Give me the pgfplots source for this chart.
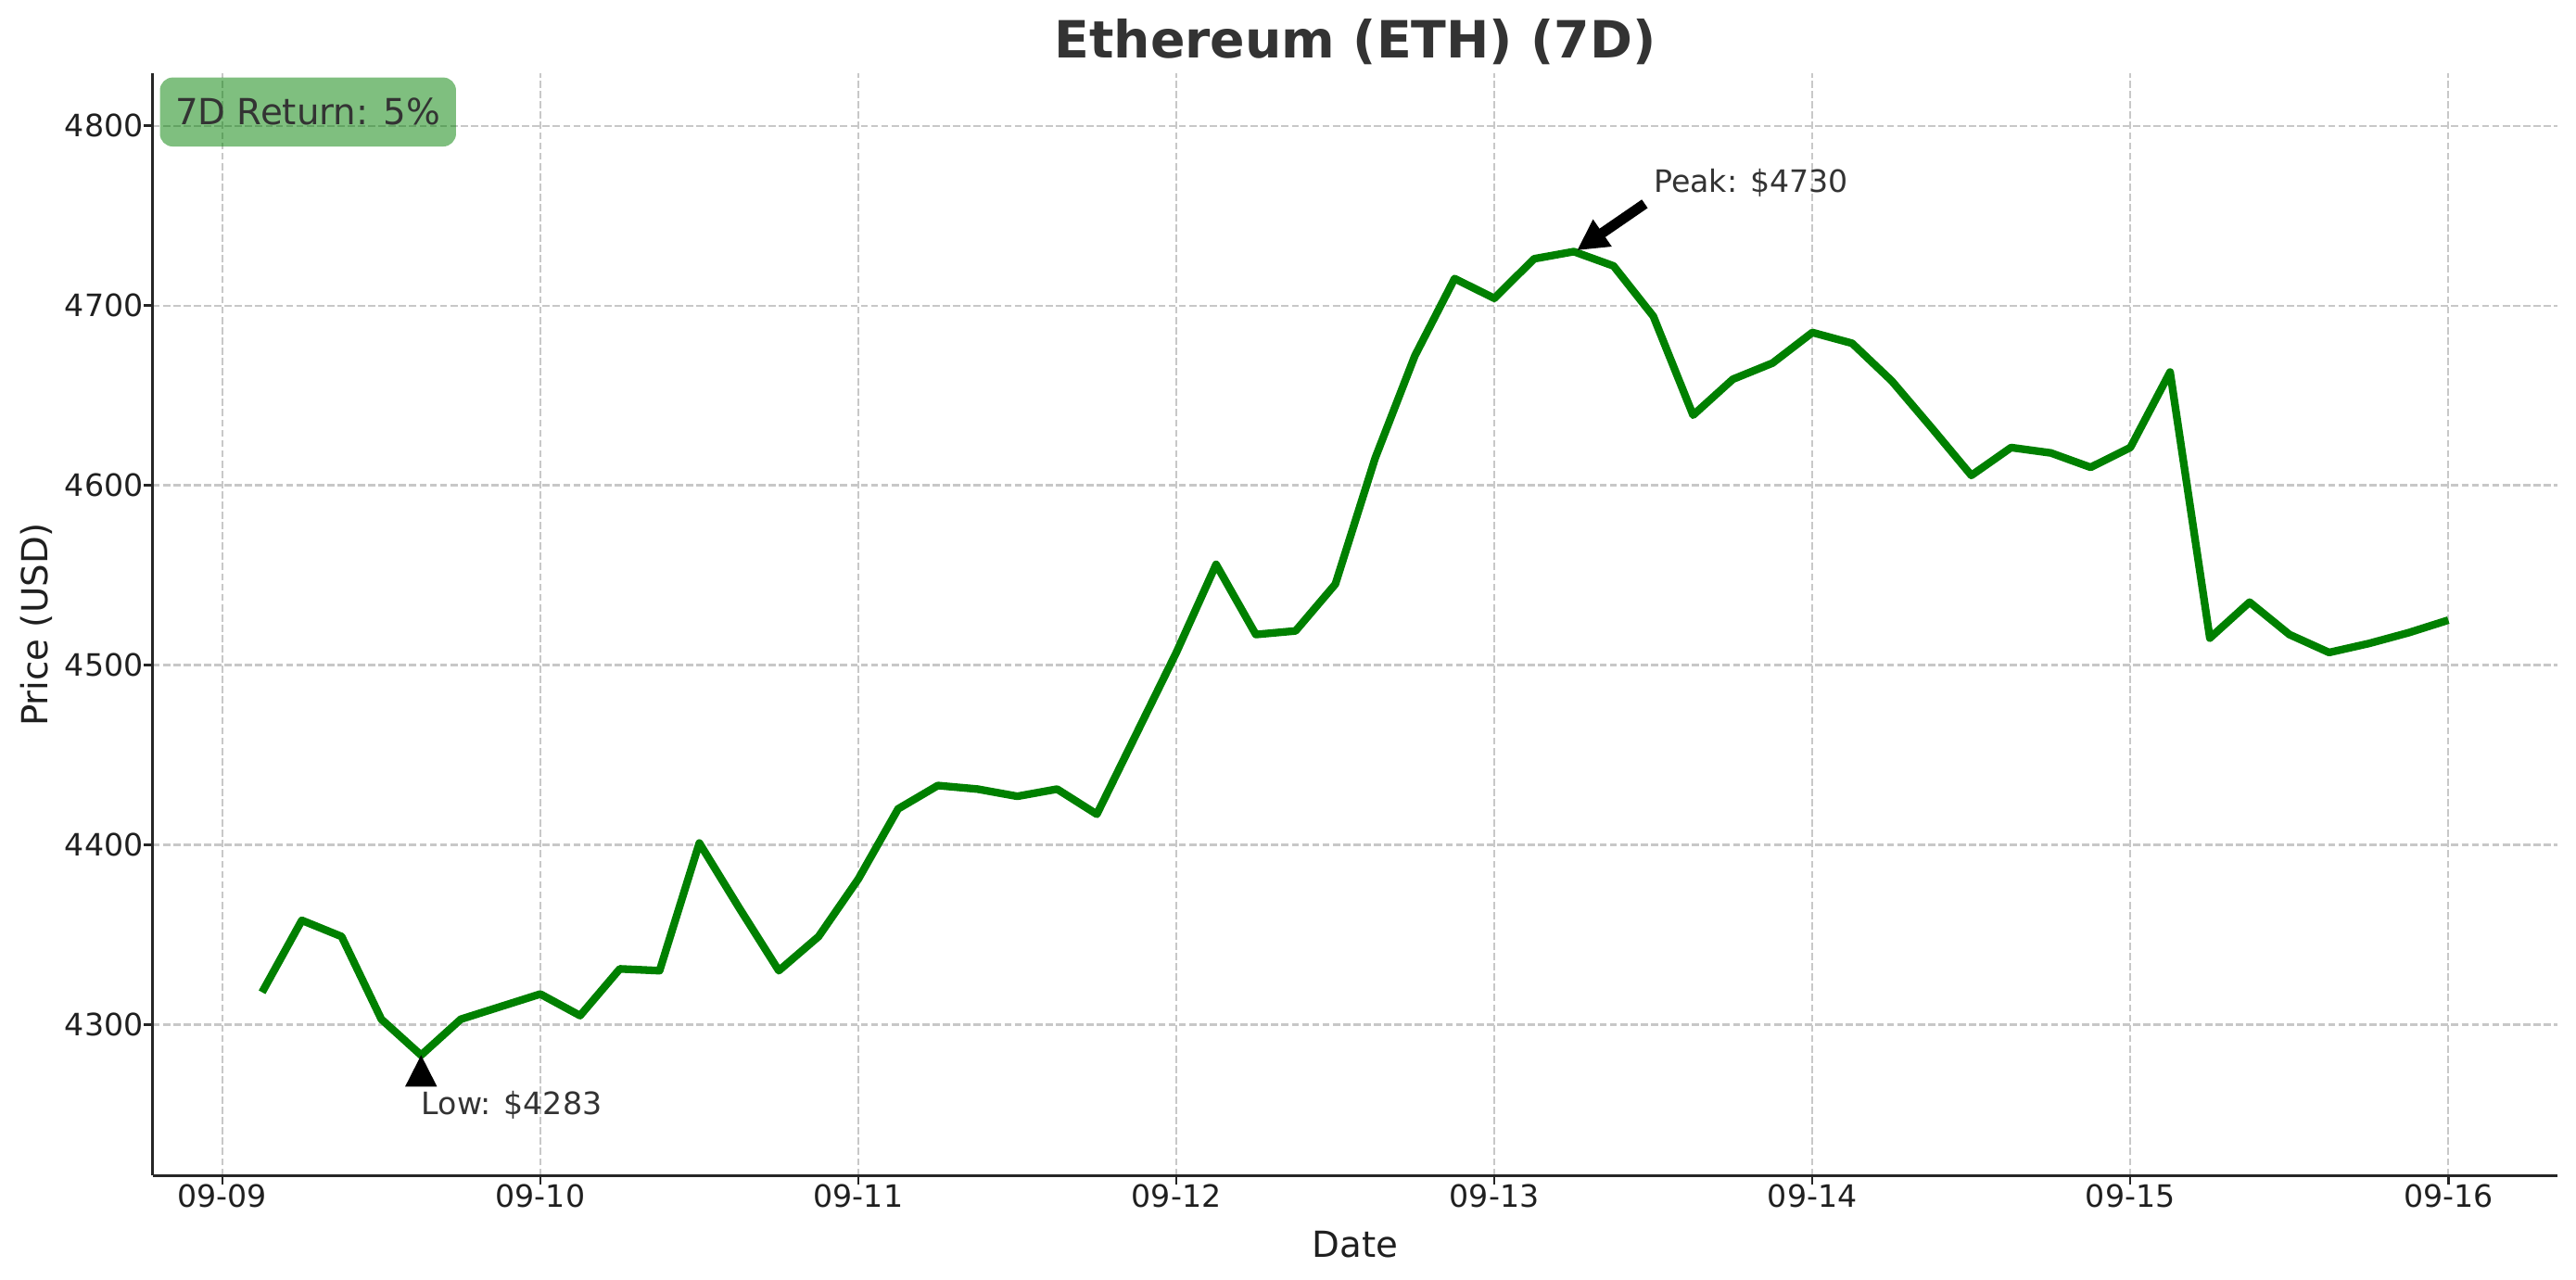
\documentclass[border=0pt]{standalone}
\usepackage{pgfplots}
\pgfplotsset{compat=1.18}
\usepackage{fontspec}
\setmainfont{DejaVu Sans}
\usetikzlibrary{arrows.meta}
\definecolor{txt}{HTML}{333333}
\definecolor{lineg}{HTML}{008000}
\definecolor{gridc}{HTML}{C8C8C8}
\definecolor{spine}{HTML}{262626}

\pgfplotstableread{
t v
0.125 4318
0.25 4358
0.375 4349
0.5 4303
0.625 4283
0.75 4303
0.875 4310
1.0 4317
1.125 4305
1.25 4331
1.375 4330
1.5 4401
1.625 4365
1.75 4330
1.875 4349
2.0 4381
2.125 4420
2.25 4433
2.375 4431
2.5 4427
2.625 4431
2.75 4417
2.875 4462
3.0 4507
3.125 4556
3.25 4517
3.375 4519
3.5 4545
3.625 4615
3.75 4672
3.875 4715
4.0 4704
4.125 4726
4.25 4730
4.375 4722
4.5 4694
4.625 4639
4.75 4659
4.875 4668
5.0 4685
5.125 4679
5.25 4658
5.375 4632
5.5 4605.5
5.625 4621
5.75 4618
5.875 4610
6.0 4621
6.125 4663
6.25 4515
6.375 4535
6.5 4517
6.625 4507
6.75 4512
6.875 4518
7.0 4525
}\eth

\begin{document}
\begin{tikzpicture}
\useasboundingbox (0,0) rectangle (1000.4bp,496.8bp);
\begin{axis}[
  at={(59.3bp,40.2bp)}, anchor=south west,
  scale only axis, width=934bp, height=428bp,
  xmin=-0.219, xmax=7.344, ymin=4216, ymax=4829,
  axis x line*=bottom, axis y line*=left,
  axis line style={spine, line width=0.9pt, -},
  xtick={0,1,2,3,4,5,6,7},
  xticklabels={09-09,09-10,09-11,09-12,09-13,09-14,09-15,09-16},
  ytick={4300,4400,4500,4600,4700,4800},
  scaled y ticks=false,
  /pgf/number format/1000 sep={},
  /pgf/number format/assume math mode=true,
  tick align=outside,
  major tick length=3.5pt,
  tick style={spine, line width=0.9pt},
  ticklabel style={font=\fontsize{12}{14}\selectfont, text=black!88},
  xticklabel style={anchor=base, inner sep=0pt, yshift=-8.8bp},
  yticklabel style={anchor=east, inner sep=0pt, xshift=0bp},
  grid=major,
  grid style={gridc, line width=0.8pt, dash pattern=on 2.8pt off 1.2pt},
  xlabel={Date},
  ylabel={Price (USD)},
  xlabel style={at={(axis description cs:0.5,-0.0745)}, anchor=base, inner sep=0pt, font=\fontsize{14}{16}\selectfont, text=black!88},
  ylabel style={at={(axis description cs:-0.0437,0.5)}, anchor=base, inner sep=0pt, font=\fontsize{14}{16}\selectfont, text=black!88},
  title={Ethereum (ETH) (7D)},
  title style={at={(axis description cs:0.5,1)}, anchor=base, inner sep=0pt, yshift=0.2bp, font=\fontsize{20}{24}\selectfont\bfseries, text=txt},
  clip=false,
]
\addplot[lineg, line width=3pt, line join=round] table[x=t, y=v] {\eth};

% peak annotation
\draw[black, line width=4pt, -{Triangle[length=12pt,width=12pt]}] (axis cs:4.473,4756.6) -- (axis cs:4.26,4730.7);
\node[anchor=base west, inner sep=0pt, text=txt, font=\fontsize{12}{14}\selectfont] at (axis cs:4.5,4763) {Peak: \$4730};

% low annotation
\fill[black] (axis cs:0.625,4283) -- ([xshift=-6.2bp,yshift=-12.2bp]axis cs:0.625,4283) -- ([xshift=6.2bp,yshift=-12.2bp]axis cs:0.625,4283) -- cycle;
\node[anchor=base west, inner sep=0pt, text=txt, font=\fontsize{12}{14}\selectfont] at (axis cs:0.625,4250) {Low: \$4283};

% return box
\node[anchor=north west, fill=lineg, fill opacity=0.5, text opacity=1, text=txt, rounded corners=5bp,
      minimum width=115bp, minimum height=26.8bp, inner sep=0pt, font=\fontsize{14}{16}\selectfont]
  at ([xshift=2.6bp,yshift=-1.3bp]rel axis cs:0,1) {7D Return: 5\%};
\end{axis}
\end{tikzpicture}
\end{document}
